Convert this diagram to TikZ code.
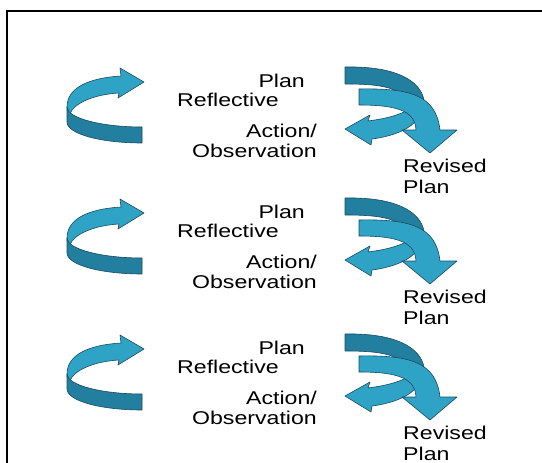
\documentclass[tikz,border=0pt]{standalone}
\usepackage{fontspec}
\setmainfont{Liberation Sans}[FakeStretch=1.25]
\definecolor{cyclelight}{HTML}{2FA3C6}
\definecolor{cycledark}{HTML}{237F9F}
\definecolor{cycleedge}{HTML}{1B4B5E}

\begin{document}
\begin{tikzpicture}[
  x=1pt,y=-1pt,
  lightpart/.style={fill=cyclelight,draw=cycleedge,line width=0.6pt,line join=round},
  darkpart/.style={fill=cycledark,draw=cycleedge,line width=0.6pt,line join=round},
  lbl/.style={inner sep=0pt,font=\fontsize{18.5}{19.5}\selectfont}
]
\useasboundingbox (0,0) rectangle (542,463);
\draw[line width=2pt] (7,463) -- (7,10.5) -- (542,10.5);

% one cycle per row
\foreach \dy/\k in {0/a,131/b,267/c}{
\begin{scope}[shift={(0,\dy)}]
  % left ribbon, back then front
  \path[lightpart] (67,107) .. controls (67,88) and (88,78) .. (121,76) -- (120,68) -- (144,82)
    -- (118,98) -- (119,93) .. controls (100,94) and (80,100) .. (72,110) -- (68,118) -- cycle;
  \path[darkpart] (67,107) .. controls (67,118) and (101,127) .. (142,127) -- (142,143)
    .. controls (101,143) and (67,134) .. (67,122) -- cycle;
  % right group
  \path[darkpart] (345,67) .. controls (395,66) and (420,80) .. (424,100) -- (410,104)
    .. controls (400,88) and (385,84) .. (345,84) -- cycle;
  \path[lightpart] (416,104) .. controls (405,114) and (390,118) .. (368,121) -- (370,115) -- (345,129)
    -- (371,145) -- (372,139) .. controls (395,136) and (412,128) .. (418,118) -- cycle;
  \path[lightpart] (359,89) .. controls (410,88) and (436,95) .. (440,130) -- (457,130) -- (430,153)
    -- (402,130) -- (416,130) .. controls (415,112) and (400,105) .. (359,105) -- cycle;
  % labels
  \node[lbl,anchor=base east] (plan\k) at (305,87) {Plan};
  \node[lbl,anchor=base west] (reflect\k) at (177,106) {Reflective};
  \node[lbl,anchor=base east,align=right] (action\k) at (317,157) {Action/\\Observation};
  \node[lbl,anchor=base west,align=left,font=\fontsize{18.5}{20.5}\selectfont] (revised\k) at (403,193) {Revised\\Plan};
\end{scope}
}
\end{tikzpicture}
\end{document}
